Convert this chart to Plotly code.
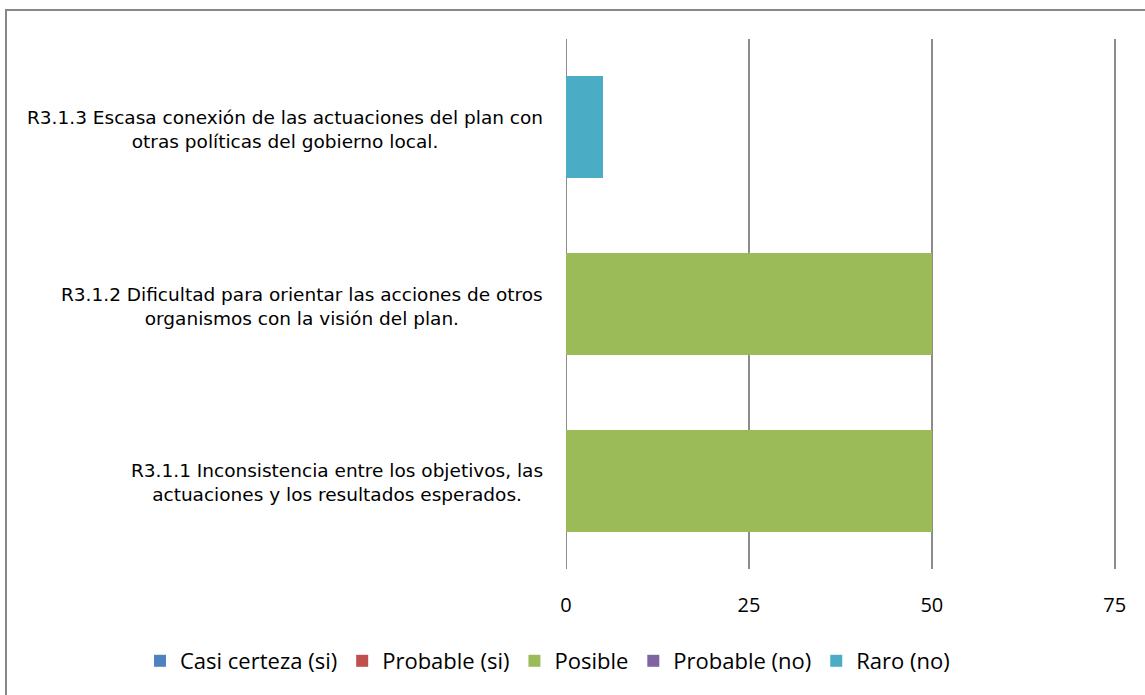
import plotly.graph_objects as go

categories = [
    "R3.1.1 Inconsistencia entre los objetivos, las<br>actuaciones y los resultados esperados.",
    "R3.1.2 Dificultad para orientar las acciones de otros<br>organismos con la visión del plan.",
    "R3.1.3 Escasa conexión de las actuaciones del plan con<br>otras políticas del gobierno local.",
]
series_names = ["Casi certeza (si)", "Probable (si)", "Posible", "Probable (no)", "Raro (no)"]
casi_certeza = [0, 0, 0]
probable_si = [0, 0, 0]
posible = [50, 50, 0]
probable_no = [0, 0, 0]
raro_no = [0, 0, 5]
tick_vals = [0, 25, 50, 75]

colors = ["#4F81BD", "#C0504D", "#9BBB59", "#8064A2", "#4BACC6"]
values = [casi_certeza, probable_si, posible, probable_no, raro_no]

W, H = 1145, 695
L, T, R, B = 566, 39, 28, 126
pw = W - L - R
ph = H - T - B

fig = go.Figure()
for name, vals, col in zip(series_names, values, colors):
    fig.add_trace(go.Bar(
        y=categories, x=vals, name=name, orientation="h",
        marker=dict(color=col, line=dict(width=0)),
    ))

for cat in categories:
    fig.add_annotation(
        x=0, xref="paper", xshift=-21, y=cat, yref="y", yshift=-2,
        text=cat, showarrow=False, xanchor="right", yanchor="middle",
        align="center",
        font=dict(family="DejaVu Sans", size=18.5, color="#000000"),
    )

fig.add_shape(
    type="rect", xref="paper", yref="paper",
    x0=(6 - L) / pw, x1=(1170 - L) / pw,
    y0=(T + ph - 720) / ph, y1=(T + ph - 10) / ph,
    line=dict(color="#888888", width=2), fillcolor="rgba(0,0,0,0)", layer="below",
)

fig.update_layout(
    width=W, height=H,
    barmode="stack", bargap=0.423,
    margin=dict(l=L, r=R, t=T, b=B, autoexpand=False),
    plot_bgcolor="white", paper_bgcolor="white",
    showlegend=True,
    legend=dict(
        orientation="h", xref="paper", yref="paper",
        x=(140 - L) / pw, xanchor="left",
        y=(T + ph - 661) / ph, yanchor="middle",
        font=dict(family="Open Sans", size=22, color="#000000"),
        traceorder="normal", itemwidth=30,
    ),
    xaxis=dict(
        range=[0, 75.3], tickvals=tick_vals, showgrid=True,
        gridcolor="#8c8c8c", gridwidth=2, zeroline=False,
        showline=False, ticks="", ticklabelstandoff=22,
        tickfont=dict(family="Open Sans", size=20, color="#000000"),
    ),
    yaxis=dict(
        showticklabels=False, showgrid=False, zeroline=False, showline=False,
        ticks="",
    ),
)
fig.add_vline(x=0, line=dict(color="#8c8c8c", width=2), layer="below")

fig.write_html("out.html")
